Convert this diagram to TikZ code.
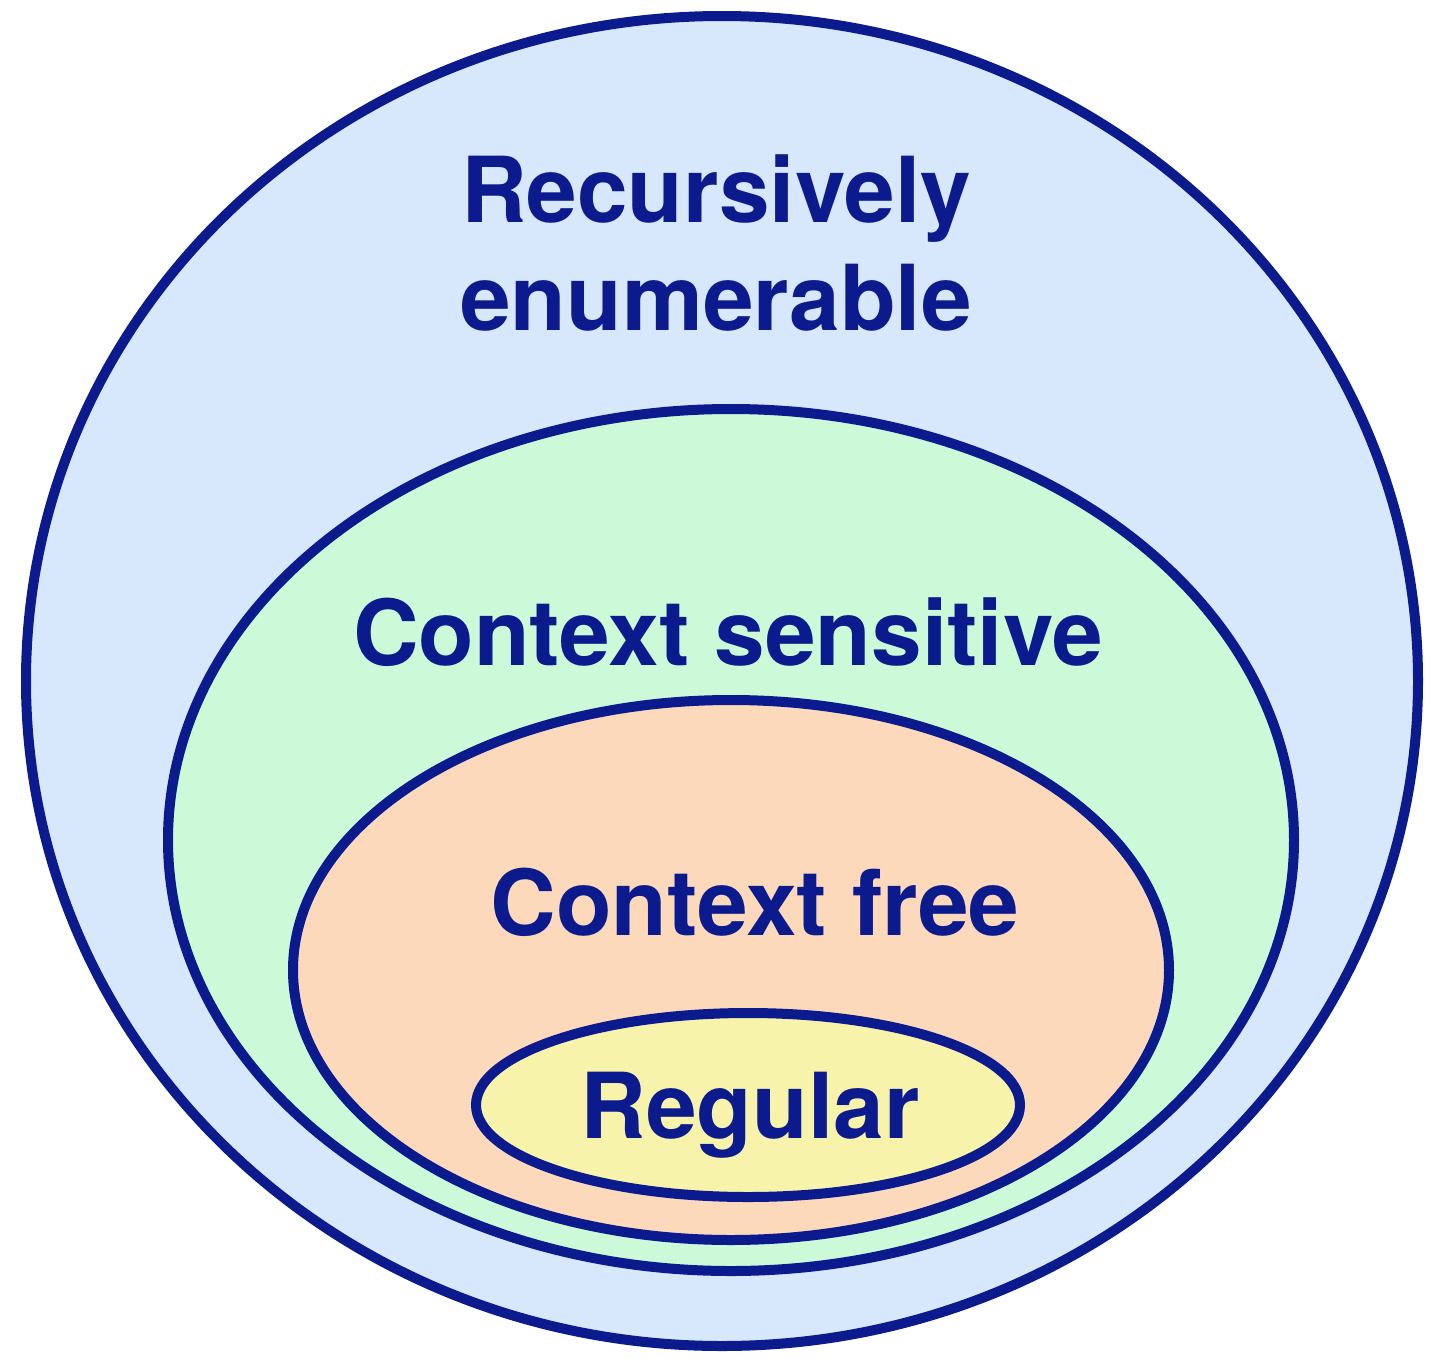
\documentclass[tikz,border=0pt]{standalone}
\usepackage{fontspec}
\setmainfont{TeX Gyre Heros}
\definecolor{navy}{HTML}{0B1A8C}
\definecolor{reblue}{HTML}{D7E8FC}
\definecolor{csgreen}{HTML}{CCFAD8}
\definecolor{cforange}{HTML}{FDD9BB}
\definecolor{regyellow}{HTML}{F7F3AA}
\tikzset{
  setline/.style={draw=navy, line width=10pt},
  setlabel/.style={text=navy, font=\fontsize{91}{108}\selectfont\bfseries, anchor=base, inner sep=0pt, align=center}
}
\begin{document}
\begin{tikzpicture}[x=1pt,y=-1pt]
\useasboundingbox (0,0) rectangle (1441,1358);
\fill[white] (0,0) rectangle (1441,1358);
\path[setline, fill=reblue] (722,681) ellipse [x radius=696, y radius=665];
\path[setline, fill=csgreen] (731,840) ellipse [x radius=563, y radius=431];
\path[setline, fill=cforange] (731,970) ellipse [x radius=438, y radius=270];
\path[setline, fill=regyellow] (748,1105) ellipse [x radius=272, y radius=92];
\node[setlabel] (re1) at (716,222) {Recursively};
\node[setlabel] (re2) at (716,330) {enumerable};
\node[setlabel] (cs) at (728,665) {Context sensitive};
\node[setlabel] (cf) at (755,935) {Context free};
\node[setlabel] (reg) at (750,1138) {Regular};
\end{tikzpicture}
\end{document}
